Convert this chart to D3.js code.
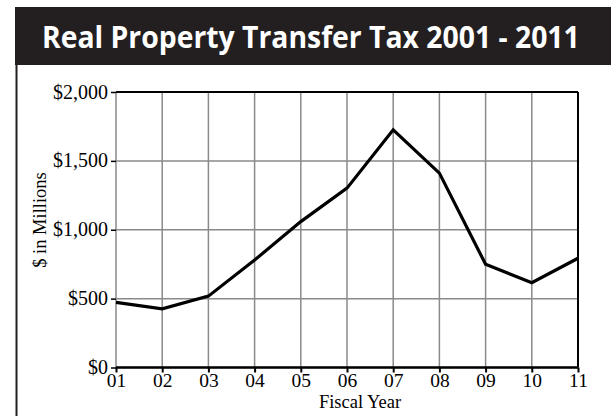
<!DOCTYPE html>
<html><head><meta charset="utf-8">
<script src="https://cdn.jsdelivr.net/npm/d3@7"></script>
<style>html,body{margin:0;padding:0;background:#fff;}svg{display:block;}</style>
</head><body>
<script>
const years = ["01","02","03","04","05","06","07","08","09","10","11"];
const values = [473, 426, 518, 780, 1059, 1302, 1726, 1411, 749, 615, 793];
const yTicks = [0, 500, 1000, 1500, 2000];
const title = "Real Property Transfer Tax 2001 - 2011";
const yLabel = "$ in Millions";
const xLabel = "Fiscal Year";

const W = 611, H = 416;
const svg = d3.select("body").append("svg").attr("width", W).attr("height", H);

// title bar
svg.append("rect").attr("x", 15).attr("y", 7).attr("width", W - 15).attr("height", 58).attr("fill", "#231f20");
const t = svg.append("text").attr("x", 0).attr("y", 0).attr("fill", "#fff")
  .attr("font-family", "'Open Sans', sans-serif").attr("font-weight", "bold").attr("font-size", 31)
  .text(title);
const tw = t.node().getComputedTextLength();
t.attr("transform", `translate(42,48) scale(${538 / tw},1)`);
// left border
svg.append("line").attr("x1", 16.5).attr("x2", 16.5).attr("y1", 65).attr("y2", H).attr("stroke", "#231f20").attr("stroke-width", 2);

const x = d3.scalePoint().domain(years).range([116, 578]);
const y = d3.scaleLinear().domain([0, 2000]).range([367.5, 92]);

const g = svg.append("g");
// grid
g.selectAll(".vg").data(years).join("line")
  .attr("x1", d => x(d)).attr("x2", d => x(d)).attr("y1", y(0)).attr("y2", y(2000))
  .attr("stroke", "#8a8a8a").attr("stroke-width", 1.5);
g.selectAll(".hg").data(yTicks).join("line")
  .attr("x1", x("01")).attr("x2", x("11")).attr("y1", d => y(d)).attr("y2", d => y(d))
  .attr("stroke", "#8a8a8a").attr("stroke-width", 1.5);

// frame: top, right black
g.append("line").attr("x1", x("01")).attr("x2", x("11")).attr("y1", y(2000)).attr("y2", y(2000)).attr("stroke", "#000").attr("stroke-width", 2);
g.append("line").attr("x1", x("11")).attr("x2", x("11")).attr("y1", y(2000)).attr("y2", y(0)).attr("stroke", "#000").attr("stroke-width", 2);

// axes
const font = "'Liberation Serif', 'DejaVu Serif', serif";
const fs = 18.5;
const xAxis = d3.axisBottom(x).tickSize(5).tickPadding(3);
const xg = svg.append("g").attr("transform", `translate(0,${y(0)})`).call(xAxis);
xg.attr("font-size", null).attr("font-family", null);
xg.select(".domain").attr("stroke", "#000").attr("stroke-width", 2.5).attr("d", `M${x("01")},0H${x("11")}`);
xg.selectAll(".tick line").attr("stroke", "#000").attr("stroke-width", 2);
xg.selectAll(".tick text").attr("font-family", font).attr("font-size", 19.5).attr("fill", "#000").attr("dy", null).attr("y", 19.5);

const yAxis = d3.axisLeft(y).tickValues(yTicks).tickSize(5).tickPadding(3).tickFormat(d => "$" + d3.format(",")(d));
const yg = svg.append("g").attr("transform", `translate(${x("01")},0)`).call(yAxis);
yg.attr("font-size", null).attr("font-family", null);
yg.select(".domain").remove();
yg.selectAll(".tick line").attr("stroke", "#000").attr("stroke-width", 1.5);
yg.selectAll(".tick text").attr("font-family", font).attr("font-size", 20).attr("fill", "#000").attr("dy", "0.3em");

// line
svg.append("path").datum(values.map((v, i) => [years[i], v]))
  .attr("fill", "none").attr("stroke", "#000").attr("stroke-width", 3.2).attr("stroke-linejoin", "miter")
  .attr("d", d3.line().x(d => x(d[0])).y(d => y(d[1])));

// labels
svg.append("text").attr("x", 360).attr("y", 408).attr("text-anchor", "middle")
  .attr("font-family", font).attr("font-size", fs).attr("fill", "#000").text(xLabel);
svg.append("text").attr("transform", "translate(46,220) rotate(-90)").attr("text-anchor", "middle")
  .attr("font-family", font).attr("font-size", fs).attr("fill", "#000").text(yLabel);
</script>
</body></html>
